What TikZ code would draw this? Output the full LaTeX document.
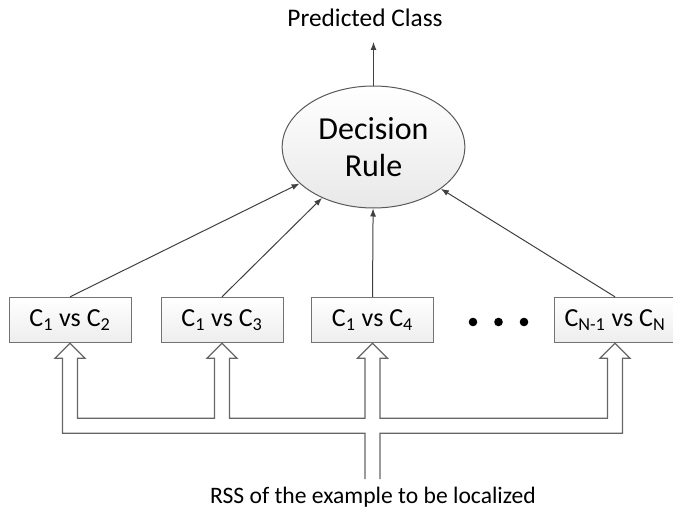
\documentclass[tikz,border=0pt]{standalone}
\usepackage{fontspec}
\setmainfont{Carlito}
\usetikzlibrary{shapes.geometric,calc,arrows.meta}

\tikzset{every picture/.style={line width=0.75pt}}
\tikzset{
  classbox/.style={draw=black!55, top color=white, bottom color=black!7, rectangle,
    minimum width=91.5pt, minimum height=34pt, inner sep=0pt, font=\fontsize{19.5}{23}\selectfont},
  rulebox/.style={draw=black!65, top color=white, bottom color=black!9, ellipse,
    minimum width=137pt, minimum height=91.5pt, inner sep=0pt, align=center,
    font=\fontsize{24}{27.75}\selectfont},
  vote/.style={draw=black!75, -{Latex[length=6pt,width=4.5pt]}},
  rss/.style={draw=black!60, line width=0.9pt, line join=miter},
}
\newcommand{\cvs}[2]{C\textsubscript{#1} vs C\textsubscript{#2}}

\begin{document}
\begin{tikzpicture}[x=0.75pt,y=0.75pt,yscale=-1,xscale=1]
\useasboundingbox (0,0) rectangle (673,517);

%Ellipse
\node [rulebox] (rule) at (373.5,147) {Decision\\Rule};

%Rectangles
\node [classbox] (b1) at (70,320) {\cvs{1}{2}};
\node [classbox] (b2) at (222,320) {\cvs{1}{3}};
\node [classbox] (b3) at (372.5,320) {\cvs{1}{4}};
\node [classbox, minimum width=91pt] (b4) at (615,320) {\cvs{N-1}{N}};

% Text Node
\node [font=\fontsize{19}{23}\selectfont] (out) at (365,18) {Predicted Class};
\node [font=\fontsize{17.7}{22}\selectfont] (rssin) at (373,497) {RSS of the example to be localized};

%Dots
\foreach \x in {473,498.5,524}
  \fill (\x,322) circle (4.3);

%Straight Lines
\coordinate (top) at (373.5,42);
\draw [vote] (rule) -- (top);
\foreach \b in {b1,b2,b3,b4}
  \draw [vote] (\b.north) -- (rule);

%Double Line Arrows
\coordinate (stem) at ($(b3.south)+(0,136)$);
\draw [rss] ($(stem)+(-7.5,0)$) |- ($(b1.south)+(-7.5,90)$) -- ++(0,-75) -- ++(-7.5,0) -- (b1.south) -- ++(15,15) -- ++(-7.5,0)
  |- ($(b2.south)+(-7.5,75)$) -- ++(0,-60) -- ++(-7.5,0) -- (b2.south) -- ++(15,15) -- ++(-7.5,0)
  |- ($(b3.south)+(-7.5,75)$) -- ++(0,-60) -- ++(-7.5,0) -- (b3.south) -- ++(15,15) -- ++(-7.5,0)
  |- ($(b4.south)+(-7.5,75)$) -- ++(0,-60) -- ++(-7.5,0) -- (b4.south) -- ++(15,15) -- ++(-7.5,0)
  |- ($(stem)+(7.5,-46)$) -- ($(stem)+(7.5,0)$);

\end{tikzpicture}
\end{document}
